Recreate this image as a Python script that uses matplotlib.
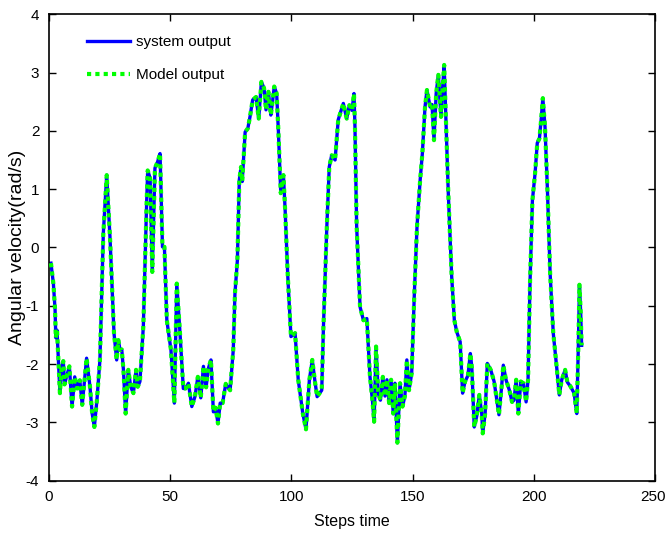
import matplotlib
matplotlib.use("Agg")
import matplotlib.pyplot as plt
from matplotlib import font_manager
from matplotlib.transforms import ScaledTranslation

steps = [0.8, 1.8, 2.5, 2.8, 3.3, 3.8, 4.5, 5.2, 5.9, 6.4, 7.2, 8.4, 9.5, 10.6, 11.6, 12.7, 13.7,
         15.5, 16.9, 17.8, 18.7, 19.8, 21.0, 22.4, 23.8, 25.2, 26.8, 27.9, 28.6, 29.3, 30.0, 30.7,
         31.6, 32.7, 33.7, 34.8, 35.9, 36.6, 37.5, 38.9, 40.3, 40.7, 41.7, 42.6, 43.7, 44.8, 45.8,
         46.8, 47.6, 48.6, 50.3, 51.7, 52.7, 54.0, 55.4, 56.3, 57.5, 58.9, 60.2, 61.4, 62.6, 63.7,
         64.8, 65.7, 66.8, 67.8, 68.7, 69.7, 70.6, 71.6, 72.9, 74.7, 76.0, 76.7, 77.7, 78.5, 79.2,
         79.7, 80.9, 82.0, 82.9, 84.0, 85.4, 86.5, 87.6, 88.7, 89.5, 90.5, 91.5, 92.2, 92.9, 93.9,
         94.6, 95.6, 96.7, 97.4, 98.5, 99.8, 101.5, 102.8, 104.7, 106.0, 107.4, 108.6, 109.7, 110.6,
         112.5, 113.2, 114.6, 115.6, 116.6, 118.0, 119.3, 121.4, 122.8, 123.9, 125.0, 125.8, 126.2,
         126.9, 128.3, 129.7, 131.1, 132.4, 133.4, 134.1, 134.9, 135.8, 136.7, 137.7, 138.6, 139.4,
         140.3, 141.1, 142.0, 142.7, 143.7, 144.8, 145.8, 146.8, 147.6, 148.5, 149.6, 150.7, 151.8,
         153.1, 154.0, 155.1, 155.9, 157.2, 158.0, 158.8, 159.7, 160.6, 161.7, 162.4, 163.0, 163.8,
         164.7, 166.1, 167.2, 168.2, 169.6, 170.6, 171.6, 172.8, 173.8, 174.4, 175.4, 176.4, 177.5,
         178.5, 178.9, 179.9, 180.8, 182.2, 183.6, 184.7, 185.6, 186.7, 187.4, 188.5, 189.9, 191.0,
         191.8, 192.7, 193.6, 194.6, 195.7, 196.8, 197.6, 198.4, 199.4, 200.5, 201.4, 202.3, 203.0,
         203.7, 204.6, 205.6, 206.7, 208.0, 209.4, 210.5, 211.5, 212.9, 213.8, 215.2, 216.6, 217.7,
         218.4, 218.8, 219.3, 219.7]

velocity = [-0.27, -0.62, -1.07, -1.55, -1.42, -1.87, -2.5, -2.05, -1.95, -2.35, -2.22, -2.04, -2.73,
            -2.22, -2.42, -2.28, -2.70, -1.90, -2.39, -2.85, -3.08, -2.6, -1.93, 0.24, 1.24, 0.13,
            -1.47, -1.93, -1.59, -1.76, -1.75, -2.10, -2.85, -2.10, -2.39, -2.50, -2.10, -2.39,
            -2.30, -1.36, 0.81, 1.32, 1.19, -0.42, 1.36, 1.47, 1.61, 0.01, 0.01, -1.25, -1.76, -2.67,
            -0.62, -1.45, -2.42, -2.42, -2.33, -2.73, -2.56, -2.22, -2.58, -2.04, -2.40, -2.08,
            -1.93, -2.82, -2.75, -3.02, -2.67, -2.67, -2.34, -2.45, -1.76, -0.79, -0.22, 1.16, 1.38,
            1.13, 1.98, 2.04, 2.24, 2.53, 2.58, 2.21, 2.84, 2.73, 2.36, 2.67, 2.27, 2.5, 2.76, 2.64,
            2.01, 0.93, 1.24, 0.64, -0.50, -1.53, -1.47, -2.27, -2.85, -3.12, -2.27, -1.93, -2.30,
            -2.56, -2.45, -1.36, 0.36, 1.38, 1.58, 1.50, 2.19, 2.47, 2.21, 2.44, 2.35, 2.64, 2.07,
            0.36, -1.02, -1.25, -1.22, -2.22, -2.62, -2.99, -1.70, -2.50, -2.62, -2.22, -2.55, -2.27,
            -2.67, -2.27, -2.85, -2.33, -3.35, -2.33, -2.73, -2.55, -1.93, -2.45, -2.16, -0.79, 0.36,
            1.16, 1.61, 2.41, 2.70, 2.41, 2.45, 1.84, 2.64, 2.96, 2.24, 2.76, 3.13, 2.07, 0.93,
            -0.50, -1.25, -1.45, -1.62, -2.50, -2.30, -2.20, -1.82, -2.05, -3.08, -2.90, -2.53,
            -2.85, -3.19, -2.85, -1.99, -2.10, -2.30, -2.62, -2.87, -2.39, -2.02, -2.27, -2.45,
            -2.65, -2.62, -2.27, -2.85, -2.30, -2.33, -2.65, -2.27, -0.62, 0.81, 1.27, 1.79, 1.87,
            2.19, 2.56, 2.07, 0.98, -0.44, -1.47, -2.05, -2.53, -2.27, -2.10, -2.31, -2.39, -2.50,
            -2.85, -1.59, -0.64, -1.10, -1.68]

model = list(velocity)

x_ticks = [0, 50, 100, 150, 200, 250]
y_ticks = [-4, -3, -2, -1, 0, 1, 2, 3, 4]

available = {f.name for f in font_manager.fontManager.ttflist}
fam = "Liberation Sans Narrow" if "Liberation Sans Narrow" in available else "Liberation Sans"
plt.rcParams['font.family'] = [fam, 'DejaVu Sans']
plt.rcParams['axes.unicode_minus'] = False

fig = plt.figure(figsize=(6.66, 5.37), dpi=100)
ax = fig.add_axes([0.0736, 0.105, 0.91, 0.8685])

ax.plot(steps, velocity, color=(0, 0, 1), lw=2.4, label='system output', zorder=2)
ax.plot(steps, model, color=(0, 1, 0), lw=3.0, dashes=(1.0, 1.0), label='Model output', zorder=3)

ax.set_xlim(0, 250)
ax.set_ylim(-4, 4)
ax.set_xticks(x_ticks)
ax.set_yticks(y_ticks)
ax.tick_params(direction='in', length=5, width=1, top=True, right=True, labelsize=11)
ax.tick_params(axis='x', pad=7)
ax.tick_params(axis='y', pad=7)
for s in ax.spines.values():
    s.set_linewidth(1.2)

last = ax.get_xticklabels()[-1]
last.set_transform(last.get_transform() + ScaledTranslation(-2.5 / 100, 0, fig.dpi_scale_trans))

ax.set_xlabel('Steps time', fontsize=11.5, labelpad=7)
ax.set_ylabel('Angular velocity(rad/s)', fontsize=14)
ax.yaxis.set_label_coords(-0.038, 0.5)

ax.legend(loc='upper left', bbox_to_anchor=(0.063, 0.955), frameon=False, fontsize=11,
          handlelength=2.8, labelspacing=1.25, borderpad=0, borderaxespad=0, handletextpad=0.4)

fig.savefig('out.png', dpi=100)
